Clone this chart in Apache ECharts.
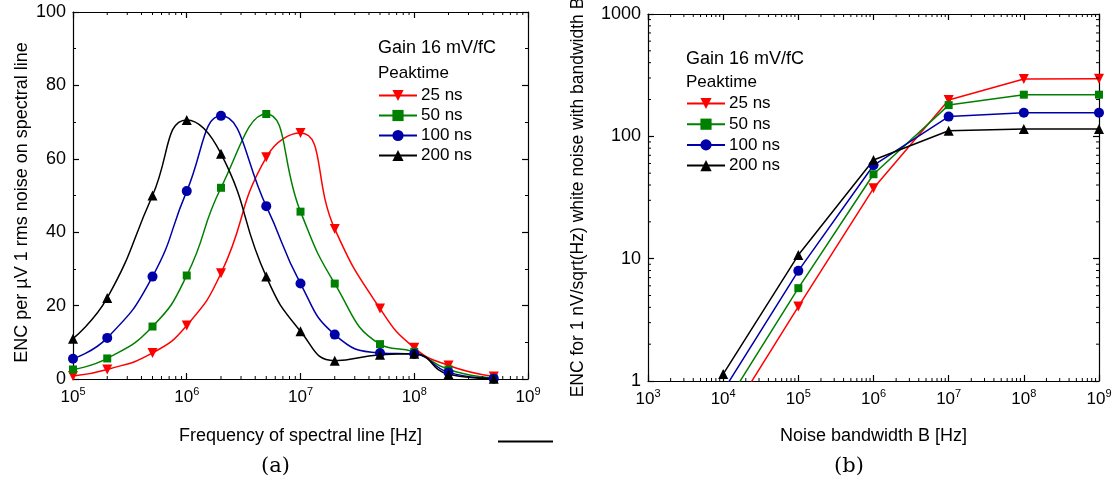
<!DOCTYPE html>
<html>
<head>
<meta charset="utf-8">
<script src="https://cdn.jsdelivr.net/npm/echarts@6/dist/echarts.min.js"></script>
<style>
  html, body { margin: 0; padding: 0; background: #fff; }
  #chart { width: 1115px; height: 486px; }
</style>
</head>
<body>
<div id="chart"></div>
<script>
// (a) spectral line frequency vs ENC
var freqA = [1e5, 2e5, 5e5, 1e6, 2e6, 5e6, 1e7, 2e7, 5e7, 1e8, 2e8, 5e8];
var encA25 = [0.8, 2.6, 7.1, 14.6, 28.8, 60.4, 67.0, 40.9, 19.2, 8.5, 3.7, 0.7];
var encA50 = [2.6, 5.6, 14.3, 28.2, 52.1, 72.2, 45.6, 26.0, 9.5, 7.4, 2.6, 0.2];
var encA100 = [5.5, 11.2, 27.9, 51.2, 71.7, 47.1, 26.0, 12.1, 7.1, 6.8, 1.8, 0.1];
var encA200 = [11.0, 22.1, 50.0, 70.6, 61.4, 27.9, 13.0, 5.0, 6.6, 6.9, 1.3, 0.1];

// (b) noise bandwidth vs ENC
var bwB = [1e4, 1e5, 1e6, 1e7, 1e8, 1e9];
var encB25 = [0.42, 4.06, 37.6, 198, 294, 295];
var encB50 = [0.6, 5.74, 49, 180, 219, 219];
var encB100 = [0.83, 7.95, 58, 145, 156, 156];
var encB200 = [1.14, 10.7, 64, 111, 115, 115];

var names = ['25 ns', '50 ns', '100 ns', '200 ns'];
var colors = ['#ff0000', '#008000', '#0000a8', '#000000'];
var symbols = ['triangle', 'rect', 'circle', 'triangle'];
var symSizes = [10, 8, 10, 10];
var rotates = [180, 0, 0, 0];

// minor log ticks 2..9 per decade
function logMinors(lo, hi) {
    var out = [];
    for (var e = lo; e < hi; e++) {
        for (var m = 2; m <= 9; m++) out.push(m * Math.pow(10, e));
    }
    return out;
}
var minorXA = logMinors(5, 9);
var minorXB = logMinors(3, 9);
var minorYB = logMinors(0, 3);

var chart = echarts.init(document.getElementById('chart'));
var font = 'Liberation Sans, Arial, sans-serif';

function pow10Label(v) {
    return '{b|10}{s|' + Math.round(Math.log10(v)) + '}';
}
var powRich = {
    b: { fontSize: 17, fontFamily: font, color: '#000', lineHeight: 20, verticalAlign: 'bottom' },
    s: { fontSize: 11, fontFamily: font, color: '#000', lineHeight: 20, verticalAlign: 'top' }
};
var numLabel = { fontSize: 18, fontFamily: font, color: '#000', margin: 7 };
var nameStyle = { fontSize: 18, fontFamily: font, color: '#000' };

var axLine = { show: true, onZero: false, lineStyle: { color: '#000', width: 1.2 } };
var majTick = { show: true, inside: true, length: 6, lineStyle: { color: '#000', width: 1.2 } };
var linMinor = { show: true, splitNumber: 2, length: 3, lineStyle: { color: '#000', width: 1 } };

// log minor ticks, drawn on both sides of the grid
function minorTicks(xi, yi, values, dim, ref) {
    return {
        type: 'custom', xAxisIndex: xi, yAxisIndex: yi, silent: true, clip: false, z: 5,
        data: values.map(function (v) { return dim === 'x' ? [v, ref] : [ref, v]; }),
        renderItem: function (params, api) {
            var cs = params.coordSys;
            var p = api.coord([api.value(0), api.value(1)]);
            var st = { stroke: '#000', lineWidth: 1 };
            if (dim === 'x') {
                return { type: 'group', children: [
                    { type: 'line', shape: { x1: p[0], y1: cs.y + cs.height, x2: p[0], y2: cs.y + cs.height - 3 }, style: st },
                    { type: 'line', shape: { x1: p[0], y1: cs.y, x2: p[0], y2: cs.y + 3 }, style: st }
                ] };
            }
            return { type: 'group', children: [
                { type: 'line', shape: { x1: cs.x, y1: p[1], x2: cs.x + 3, y2: p[1] }, style: st },
                { type: 'line', shape: { x1: cs.x + cs.width, y1: p[1], x2: cs.x + cs.width - 3, y2: p[1] }, style: st }
            ] };
        }
    };
}

var seriesA = [encA25, encA50, encA100, encA200].map(function (vals, i) {
    return {
        name: names[i], type: 'line', xAxisIndex: 0, yAxisIndex: 0, smooth: 0.5, clip: true,
        data: freqA.map(function (f, k) { return [f, vals[k]]; }),
        symbol: symbols[i], symbolSize: symSizes[i], symbolRotate: rotates[i],
        lineStyle: { color: colors[i], width: 1.5 }, itemStyle: { color: colors[i] }
    };
});
var seriesB = [encB25, encB50, encB100, encB200].map(function (vals, i) {
    return {
        name: names[i], type: 'line', xAxisIndex: 2, yAxisIndex: 2, clip: true,
        data: bwB.map(function (f, k) { return [f, vals[k]]; }),
        symbol: symbols[i], symbolSize: symSizes[i], symbolRotate: rotates[i],
        lineStyle: { color: colors[i], width: 1.5 }, itemStyle: { color: colors[i] }
    };
});

function legendAt(left, top, gap) {
    return {
        left: left, top: top, orient: 'vertical', padding: 0,
        itemWidth: 38, itemHeight: 14, itemGap: gap, selectedMode: false,
        textStyle: { fontSize: 17, fontFamily: font, color: '#000', padding: [0, 0, 0, -1] },
        data: names
    };
}

var option = {
    animation: false,
    backgroundColor: '#fff',
    grid: [
        { left: 73, right: 587, top: 12, bottom: 107, outerBoundsMode: 'none' },
        { left: 648, right: 16, top: 14, bottom: 105, outerBoundsMode: 'none' }
    ],
    xAxis: [
        { gridIndex: 0, type: 'log', min: 1e5, max: 1e9, position: 'bottom', axisLine: axLine, axisTick: majTick, splitLine: { show: false },
          axisLabel: { formatter: pow10Label, rich: powRich, margin: 7 },
          name: 'Frequency of spectral line [Hz]', nameLocation: 'middle', nameGap: 48, nameMoveOverlap: false, nameTextStyle: nameStyle },
        { gridIndex: 0, type: 'log', min: 1e5, max: 1e9, position: 'top', axisLine: axLine, axisTick: majTick, splitLine: { show: false }, axisLabel: { show: false } },
        { gridIndex: 1, type: 'log', min: 1e3, max: 1e9, position: 'bottom', axisLine: axLine, axisTick: majTick, splitLine: { show: false },
          axisLabel: { formatter: pow10Label, rich: powRich, margin: 7 },
          name: 'Noise bandwidth B [Hz]', nameLocation: 'middle', nameGap: 46, nameMoveOverlap: false, nameTextStyle: nameStyle },
        { gridIndex: 1, type: 'log', min: 1e3, max: 1e9, position: 'top', axisLine: axLine, axisTick: majTick, splitLine: { show: false }, axisLabel: { show: false } }
    ],
    yAxis: [
        { gridIndex: 0, type: 'value', min: 0, max: 100, interval: 20, position: 'left', axisLine: axLine, axisTick: majTick,
          minorTick: linMinor, splitLine: { show: false }, axisLabel: numLabel,
          name: 'ENC per \u00b5V 1 rms noise on spectral line', nameLocation: 'middle', nameGap: 42, nameRotate: 90,
          nameMoveOverlap: false, nameTextStyle: Object.assign({ padding: [0, 14, 0, 0] }, nameStyle) },
        { gridIndex: 0, type: 'value', min: 0, max: 100, interval: 20, position: 'right', axisLine: axLine, axisTick: majTick,
          minorTick: linMinor, splitLine: { show: false }, axisLabel: { show: false } },
        { gridIndex: 1, type: 'log', min: 1, max: 1000, position: 'left', axisLine: axLine, axisTick: majTick, splitLine: { show: false },
          axisLabel: Object.assign({ formatter: function (v) { return String(v); } }, numLabel),
          name: 'ENC for 1 nV/sqrt(Hz) white noise with bandwidth B', nameLocation: 'middle', nameGap: 61, nameRotate: 90,
          nameMoveOverlap: false, nameTextStyle: { fontSize: 17.5, fontFamily: font, color: '#000' } },
        { gridIndex: 1, type: 'log', min: 1, max: 1000, position: 'right', axisLine: axLine, axisTick: majTick, splitLine: { show: false }, axisLabel: { show: false } }
    ],
    legend: [legendAt(378, 87, 3), legendAt(686, 95, 3.7)],
    graphic: [
        { type: 'text', left: 378, top: 39, style: { text: 'Gain 16 mV/fC', font: '18px ' + font, fill: '#000' } },
        { type: 'text', left: 378, top: 65, style: { text: 'Peaktime', font: '17px ' + font, fill: '#000' } },
        { type: 'text', left: 686, top: 50, style: { text: 'Gain 16 mV/fC', font: '18px ' + font, fill: '#000' } },
        { type: 'text', left: 686, top: 74, style: { text: 'Peaktime', font: '17px ' + font, fill: '#000' } },
        { type: 'text', left: 261, top: 456, style: { text: '(a)', font: '21px "DejaVu Serif", "Liberation Serif", serif', fill: '#000' } },
        { type: 'text', left: 834, top: 456, style: { text: '(b)', font: '21px "DejaVu Serif", "Liberation Serif", serif', fill: '#000' } },
        { type: 'line', shape: { x1: 498, y1: 441.5, x2: 553, y2: 441.5 }, style: { stroke: '#000', lineWidth: 2 } }
    ],
    series: seriesA.concat(seriesB).concat([
        minorTicks(0, 0, minorXA, 'x', 0),
        minorTicks(2, 2, minorXB, 'x', 1),
        minorTicks(2, 2, minorYB, 'y', 1e3)
    ])
};
chart.setOption(option);
</script>
</body>
</html>
